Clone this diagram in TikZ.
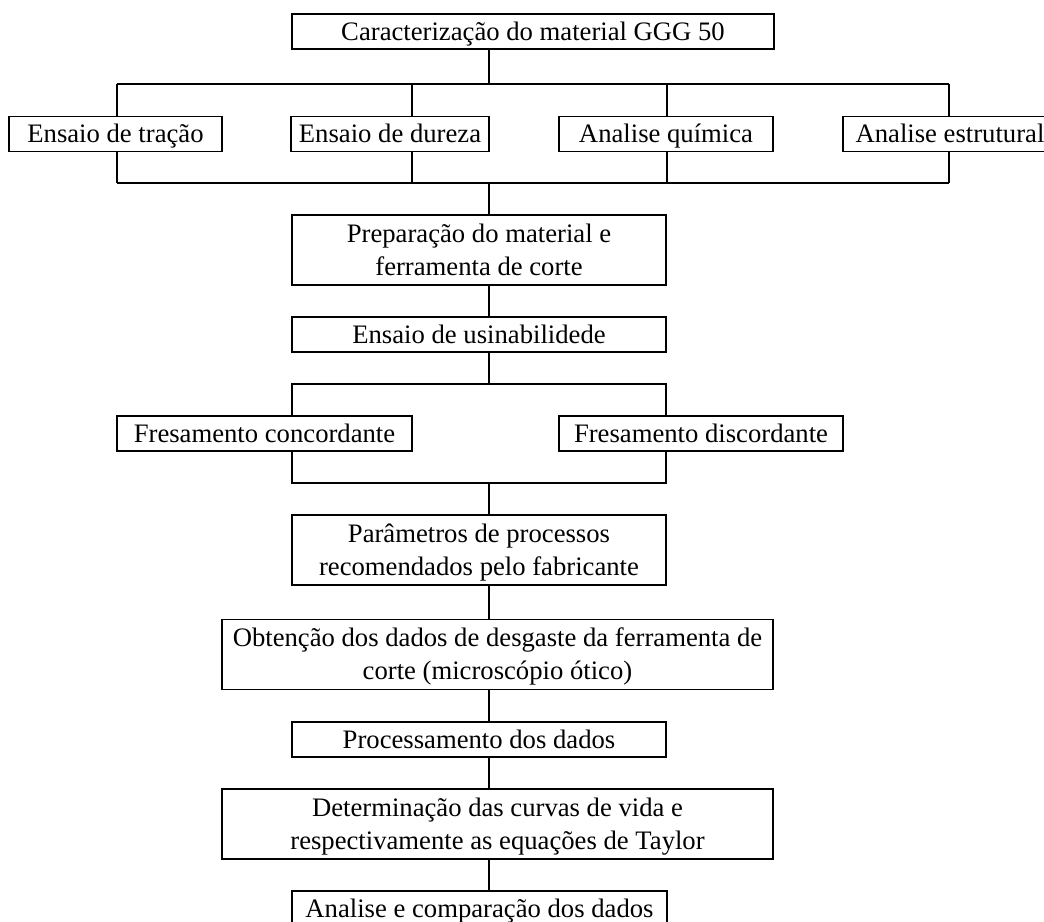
\documentclass[tikz,border=0pt]{standalone}
\usepackage{fontspec}
\setmainfont{Liberation Serif}
\usetikzlibrary{positioning}

\tikzset{
  box/.style={draw, line width=0.8pt, inner sep=0pt, minimum height=26.25pt,
    text height=15pt, text depth=2.25pt, font=\fontsize{20pt}{24.75pt}\selectfont},
  tallbox/.style={box, minimum height=52.5pt, align=center, text height=39.75pt},
  link/.style={line width=0.8pt}
}

\begin{document}
\begin{tikzpicture}[x=0.75pt, y=-0.75pt]
\useasboundingbox (0,0) rectangle (1044,921);
\node[box, minimum width=361.5pt] (carac) at (533,31.5) {Caracterização do material GGG 50};
\node[box, minimum width=159.75pt] (tracao) at (115.5,134) {Ensaio de tração};
\node[box, minimum width=148.5pt] (dureza) at (390,134) {Ensaio de dureza};
\node[box, minimum width=160.5pt] (quimica) at (666,134) {Analise química};
\node[box, minimum width=160.5pt] (estrutural) at (950,134) {Analise estrutural};
\node[tallbox, minimum width=280.5pt] (prep) at (479,250) {Preparação do material e\\ferramenta de corte};
\node[box, minimum width=280.5pt] (usin) at (479,334.5) {Ensaio de usinabilidede};
\node[box, minimum width=221.25pt] (concord) at (264.5,433.5) {Fresamento concordante};
\node[box, minimum width=213pt] (discord) at (701,433.5) {Fresamento discordante};
\node[tallbox, minimum width=280.5pt] (param) at (479,550) {Parâmetros de processos\\recomendados pelo fabricante};
\node[tallbox, minimum width=413.25pt] (obten) at (497.5,654.5) {Obtenção dos dados de desgaste da ferramenta de\\corte (microscópio ótico)};
\node[box, minimum width=280.5pt] (proc) at (479,739.5) {Processamento dos dados};
\node[tallbox, minimum width=413.25pt] (determ) at (497.5,824) {Determinação das curvas de vida e\\respectivamente as equações de Taylor};
\node[box, minimum width=281.25pt] (anal) at (479.5,908.5) {Analise e comparação dos dados};

\coordinate (trunk) at (489,84);
\coordinate (join) at (489,183);
\draw[link] (carac.south -| trunk) -- (trunk);
\foreach \n/\x in {tracao/117, dureza/412, quimica/667, estrutural/949}{
  \coordinate (u\n) at (\x,84);
  \coordinate (l\n) at (\x,183);
  \draw[link] (u\n) -- (u\n |- \n.north);
  \draw[link] (l\n |- \n.south) -- (l\n);
}
\draw[link] (utracao) -- (uestrutural);
\draw[link] (ltracao) -- (lestrutural);
\draw[link] (join) -- (prep.north -| join);
\draw[link] (prep.south -| join) -- (usin.north -| join);

\coordinate (fa) at (292,384);
\coordinate (fb) at (666,384);
\coordinate (ga) at (292,483);
\coordinate (gb) at (666,483);
\draw[link] (usin.south -| join) -- (join |- fa);
\draw[link] (concord.north -| fa) -- (fa) -- (fb) -- (fb |- discord.north);
\draw[link] (concord.south -| ga) -- (ga) -- (gb) -- (gb |- discord.south);
\draw[link] (join |- ga) -- (param.north -| join);
\foreach \a/\b in {param/obten, obten/proc, proc/determ, determ/anal}
  \draw[link] (\a.south -| join) -- (\b.north -| join);
\end{tikzpicture}
\end{document}
